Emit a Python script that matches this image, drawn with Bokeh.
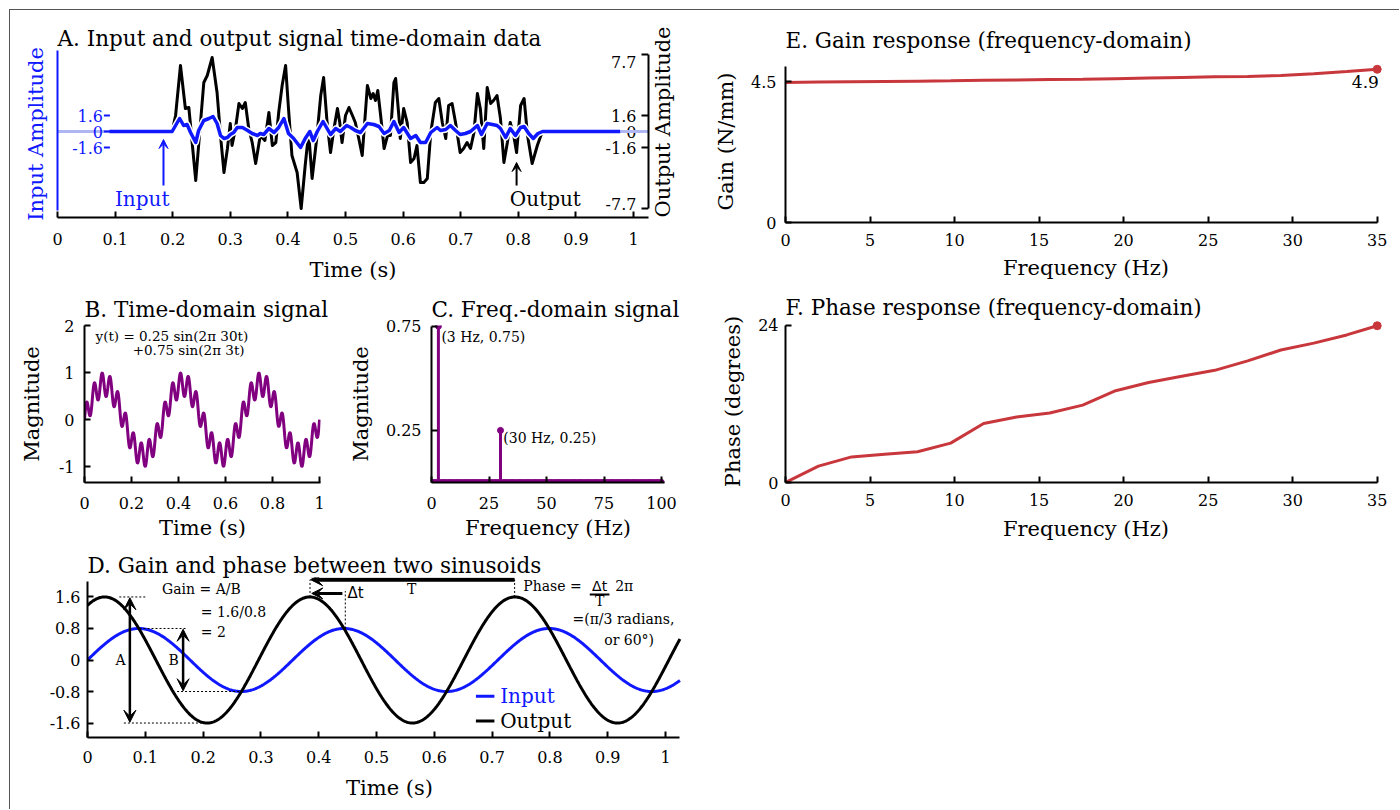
import math
import numpy as np
from bokeh.plotting import figure
from bokeh.layouts import row, column
from bokeh.models import Range1d, LinearAxis, FixedTicker, Arrow, VeeHead
from bokeh.core.properties import value
from bokeh.embed import file_html
from bokeh.resources import INLINE

FONT = "DejaVu Serif"
SANS = "DejaVu Sans"
BLUE = "#1018ff"
LIGHT_BLUE = "#aeb6f4"
PURPLE = "#800080"
RED = "#c8373c"
TICK_FS = "16px"
LABEL_FS = "21px"
TITLE_FS = "21.5px"

# ---------------- Panel A data: input / output time-domain signals ----------------
a_x_ticks = [0, 0.1, 0.2, 0.3, 0.4, 0.5, 0.6, 0.7, 0.8, 0.9, 1.0]
a_x_labels = ["0", "0.1", "0.2", "0.3", "0.4", "0.5", "0.6", "0.7", "0.8", "0.9", "1"]
a_in_ticks = [-1.6, 0, 1.6]
a_in_labels = ["-1.6", "0", "1.6"]
a_out_ticks = [-7.7, -1.6, 0, 1.6, 7.7]
a_out_labels = ["-7.7", "-1.6", "0", "1.6", "7.7"]

a_output = [
    (0.199, 0.0), (0.205, 1.6), (0.2135, 6.6), (0.222, 2.3), (0.228, 2.4), (0.240, -4.9),
    (0.254, 4.9), (0.260, 5.6), (0.2685, 7.4), (0.277, 3.9), (0.283, -0.4), (0.289, -4.1),
    (0.295, -1.7), (0.300, 0.8), (0.303, -1.4), (0.309, 0.3), (0.315, 2.8), (0.321, 2.3),
    (0.326, 2.9), (0.332, 0.3), (0.338, -1.1), (0.344, -3.2), (0.352, -0.4), (0.360, -0.9),
    (0.367, 1.9), (0.373, -1.4), (0.379, -1.1), (0.384, 1.9), (0.390, 4.6), (0.396, 6.6),
    (0.401, 2.3), (0.407, -2.4), (0.416, -4.1), (0.423, -7.7), (0.430, -3.4), (0.436, -0.1),
    (0.442, -4.7), (0.450, -0.7), (0.457, 3.6), (0.462, 5.4), (0.468, 0.9), (0.474, -2.1),
    (0.480, 0.3), (0.486, 2.3), (0.490, 0.9), (0.494, -1.1), (0.500, 1.6), (0.506, 2.4),
    (0.512, 1.6), (0.517, 0.9), (0.523, -0.7), (0.529, -2.4), (0.538, 4.6), (0.544, 3.3),
    (0.548, 3.8), (0.552, 3.1), (0.556, 4.1), (0.561, 1.6), (0.567, -1.7), (0.573, -0.4),
    (0.578, -0.4), (0.584, 4.9), (0.587, 5.3), (0.593, 1.3), (0.595, -0.7), (0.601, 2.3),
    (0.607, 0.9), (0.613, -3.1), (0.619, -2.7), (0.624, -1.4), (0.630, -5.1), (0.636, -5.1),
    (0.642, -4.7), (0.648, -0.1), (0.656, 2.9), (0.662, 3.3), (0.668, 0.9), (0.674, -0.7),
    (0.679, 2.6), (0.685, 2.8), (0.691, 0.9), (0.699, -2.1), (0.705, -1.7), (0.711, -1.1),
    (0.717, -1.7), (0.723, -0.1), (0.729, 3.8), (0.734, 2.3), (0.740, -1.7), (0.746, 4.4),
    (0.752, 2.8), (0.757, 3.1), (0.763, 3.6), (0.769, 1.3), (0.775, -3.1), (0.781, -1.1),
    (0.786, 0.9), (0.792, -0.4), (0.797, -2.1), (0.804, 2.6), (0.810, 3.3), (0.816, -0.4),
    (0.824, -3.2), (0.833, -1.4), (0.841, -0.1), (0.845, 0.0),
]
a_input = [
    (0.090, 0.0), (0.199, 0.0), (0.205, 0.6), (0.212, 1.3), (0.219, 0.6), (0.225, 0.7),
    (0.231, -0.1), (0.240, -1.1), (0.245, 0.1), (0.254, 1.1), (0.263, 1.3), (0.270, 1.5),
    (0.277, 0.8), (0.283, -0.4), (0.289, -0.7), (0.295, -0.6), (0.300, -0.3), (0.306, -0.1),
    (0.312, 0.4), (0.321, 0.4), (0.330, 0.1), (0.338, -0.2), (0.347, -0.4), (0.352, -0.2),
    (0.358, -0.3), (0.367, 0.3), (0.376, -0.1), (0.384, 0.4), (0.393, 1.3), (0.401, -0.2),
    (0.410, -0.7), (0.422, -1.6), (0.430, -0.7), (0.438, 0.0), (0.444, -0.9), (0.451, 0.0),
    (0.461, 1.0), (0.468, 0.3), (0.474, -0.3), (0.483, 0.3), (0.491, 0.0), (0.502, 0.6),
    (0.509, 0.4), (0.517, 0.1), (0.526, -0.1), (0.538, 0.8), (0.549, 0.7), (0.558, 0.5),
    (0.567, -0.2), (0.576, 0.1), (0.584, 1.0), (0.593, -0.1), (0.601, 0.4), (0.613, -0.7),
    (0.622, -0.4), (0.630, -1.1), (0.639, -1.1), (0.648, -0.1), (0.659, 0.4), (0.665, 0.1),
    (0.674, 0.2), (0.682, 0.6), (0.691, 0.1), (0.699, -0.3), (0.708, -0.2), (0.717, 0.0),
    (0.729, 0.6), (0.736, -0.3), (0.746, 0.8), (0.755, 0.7), (0.763, 0.6), (0.769, 0.3),
    (0.778, -0.6), (0.786, 0.3), (0.795, -0.4), (0.804, 0.4), (0.810, 0.5), (0.818, -0.2),
    (0.826, -0.7), (0.834, -0.2), (0.842, 0.0), (0.977, 0.0),
]
a_out_t = [p[0] for p in a_output]
a_out_v = [p[1] for p in a_output]
a_in_t = [p[0] for p in a_input]
a_in_v = [p[1] for p in a_input]

# ---------------- Panel B data: y(t) = 0.25 sin(2pi 30 t) + 0.75 sin(2pi 3 t) ----------------
b_amps = [0.25, 0.75]
b_freqs = [30, 3]
b_x_ticks = [0, 0.2, 0.4, 0.6, 0.8, 1.0]
b_x_labels = ["0", "0.2", "0.4", "0.6", "0.8", "1"]
b_y_ticks = [-1, 0, 1, 2]
b_y_labels = ["-1", "0", "1", "2"]

# ---------------- Panel C data: spectrum ----------------
c_bins = list(range(0, 101))
c_peak_freqs = [3, 30]
c_peak_mags = [0.75, 0.25]
c_x_ticks = [0, 25, 50, 75, 100]
c_y_ticks = [0.25, 0.75]
c_y_labels = ["0.25", "0.75"]

# ---------------- Panel D data: two sinusoids ----------------
d_in_amp = 0.8
d_out_amp = 1.6
d_period = 0.355
d_phase_deg = 60
d_x_ticks = a_x_ticks
d_x_labels = a_x_labels
d_y_ticks = [-1.6, -0.8, 0, 0.8, 1.6]
d_y_labels = ["-1.6", "-0.8", "0", "0.8", "1.6"]

# ---------------- Panels E/F data: frequency response ----------------
ef_freq = [0, 1.95, 3.91, 5.86, 7.81, 9.77, 11.72, 13.67, 15.63, 17.58, 19.53,
           21.48, 23.44, 25.39, 27.34, 29.30, 31.25, 33.20, 35.0]
e_gain = [4.48, 4.49, 4.50, 4.51, 4.52, 4.53, 4.55, 4.56, 4.57, 4.58, 4.60,
          4.62, 4.64, 4.66, 4.67, 4.70, 4.76, 4.83, 4.90]
f_phase = [0.0, 2.5, 3.9, 4.3, 4.7, 6.0, 9.0, 10.0, 10.6, 11.8, 14.0,
           15.25, 16.2, 17.1, 18.55, 20.2, 21.25, 22.5, 23.9]
ef_x_ticks = [0, 5, 10, 15, 20, 25, 30, 35]
e_y_ticks = [0, 4.5]
e_y_labels = ["0", "4.5"]
f_y_ticks = [0, 24]


# ---------------- helpers ----------------
def base_fig(w, h, bl, br, bt, bb, xr, yr, title, title_standoff=0):
    p = figure(width=w, height=h, x_range=Range1d(*xr), y_range=Range1d(*yr),
               output_backend="svg", toolbar_location=None,
               min_border_left=bl, min_border_right=br,
               min_border_top=bt, min_border_bottom=bb)
    p.outline_line_color = None
    p.xgrid.visible = False
    p.ygrid.visible = False
    p.background_fill_color = "white"
    p.border_fill_color = "white"
    p.title.text = title
    p.title.text_font = FONT
    p.title.text_font_size = TITLE_FS
    p.title.text_font_style = "normal"
    p.title.text_color = "black"
    p.title.align = "left"
    p.title.standoff = title_standoff
    return p


def style_axis(ax, ticks, labels=None, color="black", label="", label_standoff=8,
               tick_standoff=8, bounds=None, tick_in=6, tick_fs=TICK_FS):
    ax.ticker = FixedTicker(ticks=list(ticks))
    if labels is not None:
        ax.major_label_overrides = {t: l for t, l in zip(ticks, labels)}
    ax.minor_tick_line_color = None
    ax.major_tick_in = tick_in
    ax.major_tick_out = 0
    ax.major_tick_line_width = 2
    ax.major_tick_line_color = color
    ax.axis_line_width = 2
    ax.axis_line_color = color
    ax.major_label_text_font = FONT
    ax.major_label_text_font_size = tick_fs
    ax.major_label_text_color = color
    ax.major_label_standoff = tick_standoff
    ax.axis_label = label
    ax.axis_label_text_font = FONT
    ax.axis_label_text_font_size = LABEL_FS
    ax.axis_label_text_font_style = "normal"
    ax.axis_label_text_color = color
    ax.axis_label_standoff = label_standoff
    if bounds is not None:
        ax.bounds = bounds


def txt(p, x, y, s, size="14px", color="black", align="left", baseline="middle", font=FONT):
    p.text(x=[x], y=[y], text=[s], text_font=value(font), text_font_size=size,
           text_color=color, text_align=align, text_baseline=baseline)


# ================= Panel A =================
A_XEND = 1.026
pA = base_fig(690, 280, 47, 52, 40, 73, (0, A_XEND), (-8.6, 8.1),
              "A. Input and output signal time-domain data", 0)
style_axis(pA.xaxis[0], a_x_ticks, a_x_labels, label="Time (s)",
           tick_standoff=15, label_standoff=10)
style_axis(pA.yaxis[0], [], color=BLUE, label="Input Amplitude", label_standoff=10,
           tick_standoff=0, bounds=(-7.9, 8.1))
yr_ax = LinearAxis()
pA.add_layout(yr_ax, "right")
style_axis(yr_ax, [], label="Output Amplitude", label_standoff=14, tick_standoff=0,
           bounds=(-7.7, 7.7))
yr_ax.axis_label_orientation = math.pi / 2
yr_ax.axis_label_align = "start"
# right-axis ticks (pointing inward) and labels placed inside the frame
pA.segment(x0=[A_XEND - 7 / 576] * len(a_out_ticks), y0=a_out_ticks,
           x1=[A_XEND] * len(a_out_ticks), y1=a_out_ticks, line_color="black", line_width=2)
pA.text(x=[1.005] * len(a_out_ticks), y=a_out_ticks, text=a_out_labels,
        y_offset=[-5, 0, 0, 0, 7],
        text_font=value(FONT), text_font_size=TICK_FS, text_align="right",
        text_baseline="middle", text_color="black")

# light-blue baseline extensions
pA.segment(x0=[0, 0.977], y0=[0, 0], x1=[0.09, A_XEND], y1=[0, 0],
           line_color=LIGHT_BLUE, line_width=3)
pA.line(a_out_t, a_out_v, line_color="white", line_width=6, line_join="round")
pA.line(a_out_t, a_out_v, line_color="black", line_width=3, line_join="round")
pA.line(a_in_t, a_in_v, line_color="white", line_width=6.5, line_join="round")
pA.line(a_in_t, a_in_v, line_color=BLUE, line_width=3.5, line_join="round")
# inner tick labels for the input axis
pA.text(x=[0.079] * len(a_in_ticks), y=a_in_ticks, text=a_in_labels,
        text_font=value(FONT), text_font_size=TICK_FS, text_align="right",
        text_baseline="middle", text_color=BLUE)
pA.segment(x0=[0.0805] * len(a_in_ticks), y0=a_in_ticks, x1=[0.091] * len(a_in_ticks),
           y1=a_in_ticks, line_color=BLUE, line_width=2)
pA.add_layout(Arrow(end=VeeHead(size=9, line_color=BLUE, fill_color=BLUE, line_width=1),
                    x_start=0.184, y_start=-5.4, x_end=0.184, y_end=-0.8,
                    line_color=BLUE, line_width=2))
pA.add_layout(Arrow(end=VeeHead(size=9, line_color="black", fill_color="black", line_width=1),
                    x_start=0.797, y_start=-5.4, x_end=0.797, y_end=-3.1,
                    line_color="black", line_width=2))
txt(pA, 0.147, -6.7, "Input", size="20px", color=BLUE, align="center")
txt(pA, 0.847, -6.7, "Output", size="20px", color="black", align="center")

# ================= Panel B =================
pB = base_fig(335, 252, 74, 25, 32, 60, (0, 1.004), (-1.333, 2.0),
              "B. Time-domain signal", 8)
style_axis(pB.xaxis[0], b_x_ticks, b_x_labels, label="Time (s)",
           tick_standoff=14, label_standoff=4)
style_axis(pB.yaxis[0], b_y_ticks, b_y_labels, label="Magnitude",
           tick_standoff=10, label_standoff=12)
bt = np.linspace(0, 1, 1500)
by = sum(a * np.sin(2 * np.pi * f * bt) for a, f in zip(b_amps, b_freqs))
pB.line(bt, by, line_color=PURPLE, line_width=3)
txt(pB, 0.047, 1.77, "y(t) = 0.25 sin(2π 30t)", size="13.5px")
txt(pB, 0.205, 1.49, "+0.75 sin(2π 3t)", size="13.5px")

# ================= Panel C =================
pC = base_fig(355, 252, 85, 36, 32, 60, (0, 101.3), (0, 0.753),
              "C. Freq.-domain signal", 8)
style_axis(pC.xaxis[0], c_x_ticks, [str(t) for t in c_x_ticks], label="Frequency (Hz)",
           tick_standoff=14, label_standoff=4)
style_axis(pC.yaxis[0], c_y_ticks, c_y_labels, label="Magnitude",
           tick_standoff=10, label_standoff=10, bounds=(0, 0.75))
c_mag = [0.0] * len(c_bins)
for f, m in zip(c_peak_freqs, c_peak_mags):
    c_mag[c_bins.index(f)] = m
pC.segment(x0=c_bins, y0=[0] * len(c_bins), x1=c_bins, y1=c_mag,
           line_color=PURPLE, line_width=3)
pC.scatter(c_bins, c_mag, size=6, color=PURPLE)
txt(pC, 4.3, 0.70, "(3 Hz, 0.75)", size="14px")
txt(pC, 31.2, 0.213, "(30 Hz, 0.25)", size="14px")

# ================= Panel D =================
pD = base_fig(690, 267, 77, 9, 35, 72, (0, 1.045), (-1.967, 2.094),
              "D. Gain and phase between two sinusoids", 0)
style_axis(pD.xaxis[0], d_x_ticks, d_x_labels, label="Time (s)",
           tick_standoff=13, label_standoff=10, bounds=(0, 1.025))
style_axis(pD.yaxis[0], d_y_ticks, d_y_labels, label="",
           tick_standoff=7, bounds=(-1.967, 2.0))
dt = np.linspace(0, 1.025, 800)
d_in = d_in_amp * np.sin(2 * np.pi * dt / d_period)
d_out = d_out_amp * np.sin(2 * np.pi * dt / d_period + math.radians(d_phase_deg))
pD.line(dt, d_in, line_color=BLUE, line_width=3)
pD.line(dt, d_out, line_color="black", line_width=3)
# dotted guides
pD.segment(x0=[0.055, 0.09, 0.155, 0.063], y0=[1.6, 0.8, -0.8, -1.6],
           x1=[0.100, 0.172, 0.265, 0.205], y1=[1.6, 0.8, -0.8, -1.6],
           line_color="black", line_width=1, line_dash="2 2")
pD.segment(x0=[0.385, 0.446, 0.739], y0=[1.6, 0.8, 1.6],
           x1=[0.385, 0.446, 0.739], y1=[2.04, 1.75, 2.04],
           line_color="black", line_width=1, line_dash="2 2")
for xa_, y0_, y1_ in [(0.0733, 1.58, -1.58), (0.1654, 0.78, -0.78)]:
    pD.add_layout(Arrow(start=VeeHead(size=12, fill_color="black", line_color="black"),
                        end=VeeHead(size=12, fill_color="black", line_color="black"),
                        x_start=xa_, y_start=y0_, x_end=xa_, y_end=y1_,
                        line_color="black", line_width=2.5))
pD.add_layout(Arrow(end=VeeHead(size=11, fill_color="black", line_color="black"),
                    x_start=0.441, y_start=1.69, x_end=0.388, y_end=1.69,
                    line_color="black", line_width=3))
pD.add_layout(Arrow(end=VeeHead(size=12, fill_color="black", line_color="black"),
                    x_start=0.739, y_start=2.04, x_end=0.386, y_end=2.04,
                    line_color="black", line_width=4))
txt(pD, 0.057, 0.0, "A", size="14px", align="center")
txt(pD, 0.149, 0.0, "B", size="14px", align="center")
txt(pD, 0.129, 1.79, "Gain = A/B", size="14px")
txt(pD, 0.196, 1.21, "= 1.6/0.8", size="14px")
txt(pD, 0.196, 0.70, "= 2", size="14px")
txt(pD, 0.450, 1.69, "Δt", size="15px", font=SANS)
txt(pD, 0.561, 1.79, "T", size="14px", align="center")
txt(pD, 0.754, 1.87, "Phase =", size="14px")
txt(pD, 0.886, 1.87, "Δt", size="14px", align="center", font=SANS)
pD.segment(x0=[0.869], y0=[1.66], x1=[0.903], y1=[1.66], line_color="black", line_width=2)
txt(pD, 0.886, 1.49, "T", size="14px", align="center")
txt(pD, 0.913, 1.87, "2π", size="14px")
txt(pD, 0.839, 1.03, "=(π/3 radians,", size="14px")
txt(pD, 0.894, 0.52, "or 60°)", size="14px")
# legend
pD.segment(x0=[0.672, 0.672], y0=[-0.92, -1.55], x1=[0.704, 0.704], y1=[-0.92, -1.55],
           line_color=[BLUE, "black"], line_width=3)
txt(pD, 0.714, -0.92, "Input", size="20px", color=BLUE)
txt(pD, 0.714, -1.55, "Output", size="20px", color="black")

# ================= Panel E =================
pE = base_fig(699, 280, 85, 13, 50, 68, (0, 35.55), (0, 5.18),
              "E. Gain response (frequency-domain)", 16)
style_axis(pE.xaxis[0], ef_x_ticks, [str(t) for t in ef_x_ticks], label="Frequency (Hz)",
           tick_standoff=11, label_standoff=7, bounds=(0, 35))
style_axis(pE.yaxis[0], e_y_ticks, e_y_labels, label="Gain (N/mm)",
           tick_standoff=9, label_standoff=10, bounds=(0, 5.0))
pE.line(ef_freq, e_gain, line_color=RED, line_width=3)
pE.scatter([ef_freq[-1]], [e_gain[-1]], size=8, color=RED)
txt(pE, 35.1, 4.48, "4.9", size="17px", align="right")

# ================= Panel F =================
pF = base_fig(699, 255, 85, 13, 30, 63, (0, 35.55), (0, 24.7),
              "F. Phase response (frequency-domain)", 1)
style_axis(pF.xaxis[0], ef_x_ticks, [str(t) for t in ef_x_ticks], label="Frequency (Hz)",
           tick_standoff=11, label_standoff=8, bounds=(0, 35))
style_axis(pF.yaxis[0], f_y_ticks, [str(t) for t in f_y_ticks], label="Phase (degrees)",
           tick_standoff=7, label_standoff=10, bounds=(0, 24))
pF.line(ef_freq, f_phase, line_color=RED, line_width=3)
pF.scatter([ef_freq[-1]], [f_phase[-1]], size=8, color=RED)

left_col = column(row(pA), row(pB, pC), row(pD))
right_col = column(row(pE), row(pF))
root = row(left_col, right_col, margin=(9, 0, 0, 9),
           styles={"border-top": "1px solid #555", "border-left": "1px solid #555"})

open("out.html", "w").write(file_html(root, INLINE))
